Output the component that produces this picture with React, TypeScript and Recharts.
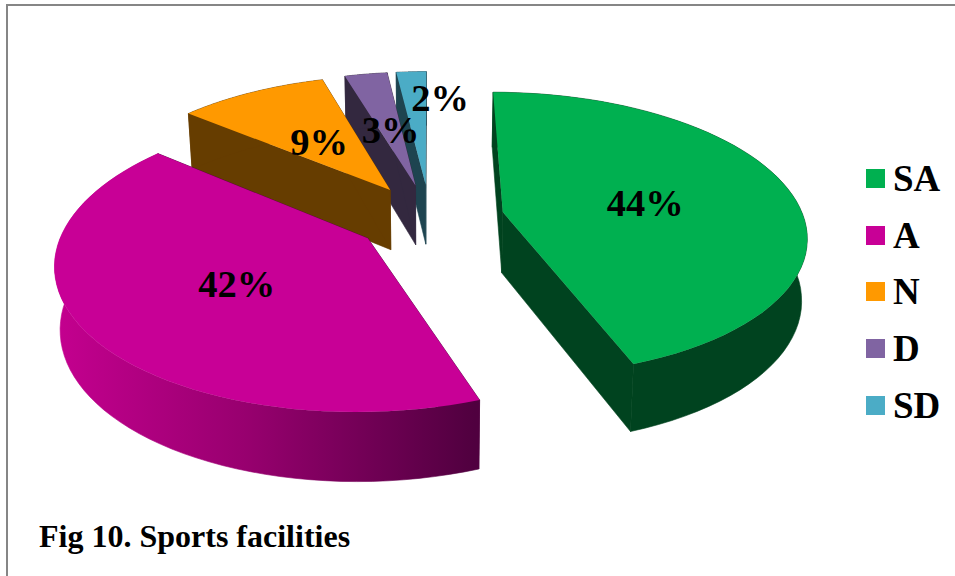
import { PieChart, Pie, Cell, Legend } from 'recharts'

// drawn back to front, so the list runs against the legend order
const categories = ['SD', 'D', 'N', 'A', 'SA']
const shares = [1.9, 2.7, 9.4, 41.51, 44.49]
const topColors = ['#4bacc6', '#8064a2', '#ff9900', '#c80096', '#00b050']
const wallColors = ['#1e4450', '#33283f', '#663d00', 'url(#wallA)', '#00431f']
const cutColors = ['#1e4450', '#33283f', '#663d00', '#50003f', '#00431f']

const data = categories.map((name, i) => ({ name, value: shares[i] }))

const RX = 301
const RY = 140
const PERSPECTIVE = 0.154
const EXPLODE = 0.247
const DEPTH = 61

const rad = (deg: number) => (deg * Math.PI) / 180

function project(cx: number, cy: number, x: number, z: number, lower = false) {
  const w = 1 + PERSPECTIVE * z
  const px = (RX * x) / w
  const py = (-RY * z) / w
  if (lower) return [cx + px * 0.985, cy + py + DEPTH / (1 + 0.7 * PERSPECTIVE * z)]
  return [cx + px, cy + py]
}

const toPath = (pts: number[][]) =>
  'M' + pts.map((p) => `${p[0].toFixed(1)},${p[1].toFixed(1)}`).join('L') + 'Z'

function Slice3D(props: any) {
  const { cx, cy, startAngle, endAngle, name } = props
  const i = categories.indexOf(name)
  const from = 90 - endAngle
  const to = 90 - startAngle
  const mid = rad((from + to) / 2)
  const ox = EXPLODE * Math.sin(mid)
  const oz = EXPLODE * Math.cos(mid)

  const top: number[][] = []
  const low: number[][] = []
  for (let a = from; a <= to + 0.001; a += (to - from) / 60) {
    top.push(project(cx, cy, ox + Math.sin(rad(a)), oz + Math.cos(rad(a))))
    low.push(project(cx, cy, ox + Math.sin(rad(a)), oz + Math.cos(rad(a)), true))
  }
  const apex = project(cx, cy, ox, oz)
  const apexLow = project(cx, cy, ox, oz, true)
  const first = top.length - 1

  return (
    <g>
      <defs>
        <linearGradient id="wallA" gradientUnits="userSpaceOnUse" x1="55" y1="0" x2="475" y2="0">
          <stop offset="0%" stopColor="#c4008f" />
          <stop offset="45%" stopColor="#98006f" />
          <stop offset="100%" stopColor="#50003f" />
        </linearGradient>
      </defs>
      <path d={toPath([apex, top[0], low[0], apexLow])} fill={cutColors[i]} stroke={cutColors[i]} strokeWidth={0.6} />
      <path d={toPath([apex, top[first], low[first], apexLow])} fill={cutColors[i]} stroke={cutColors[i]} strokeWidth={0.6} />
      <path d={toPath([...top, ...low.slice().reverse()])} fill={wallColors[i]} stroke={wallColors[i]} strokeWidth={0.6} />
      <path d={toPath([apex, ...top])} fill={topColors[i]} />
    </g>
  )
}

function SliceLabel(props: any) {
  const { cx, cy, midAngle, percent, name } = props
  const t = 90 - midAngle
  const ox = (EXPLODE + 0.49) * Math.sin(rad(t))
  const oz = (EXPLODE + 0.49) * Math.cos(rad(t))
  const [x, y] = project(cx, cy, ox, oz)
  // the smallest label was dragged off its slice in the original
  const nudge = name === 'SD' ? [22, -28] : [1, 2]
  return (
    <text
      x={x + nudge[0]}
      y={y + nudge[1]}
      dy="0.35em"
      textAnchor="middle"
      fontFamily="Liberation Serif"
      fontWeight="bold"
      fontSize={38.5}
      fill="#000"
    >
      {Math.round(percent * 100)}%
    </text>
  )
}

function LegendList() {
  const rows = categories.map((name, i) => ({ name, color: topColors[i] })).reverse()
  return (
    <div>
      {rows.map((r) => (
        <div key={r.name} style={{ display: 'flex', alignItems: 'center', height: 56.75 }}>
          <span style={{ width: 19, height: 19, background: r.color, marginRight: 8 }} />
          <span style={{ fontFamily: 'Liberation Serif', fontWeight: 'bold', fontSize: 37, color: '#000' }}>
            {r.name}
          </span>
        </div>
      ))}
    </div>
  )
}

export default function App() {
  return (
    <div style={{ position: 'absolute', left: 0, top: 0, width: 955, height: 576, overflow: 'hidden', background: '#fff' }}>
      <div
        style={{
          position: 'absolute',
          left: 6,
          top: 4,
          width: 1000,
          height: 700,
          border: '2px solid #868686',
        }}
      />
      <div style={{ position: 'absolute', left: 0, top: 0 }}>
        <PieChart width={955} height={576}>
          <Pie
            data={data}
            dataKey="value"
            nameKey="name"
            cx={425}
            cy={213}
            outerRadius={RX}
            startAngle={90}
            endAngle={450}
            stroke="none"
            shape={Slice3D}
            label={SliceLabel}
            labelLine={false}
            isAnimationActive={false}
          >
            {data.map((_, i) => (
              <Cell key={`cell-${i}`} fill={topColors[i]} />
            ))}
          </Pie>
          <Legend
            content={LegendList}
            wrapperStyle={{ position: 'absolute', left: 866, top: 150, width: 89, bottom: 'auto' }}
          />
        </PieChart>
      </div>
      <div
        style={{
          position: 'absolute',
          left: 39,
          top: 518,
          fontFamily: 'Liberation Serif',
          fontWeight: 'bold',
          fontSize: 32,
          color: '#000',
          whiteSpace: 'nowrap',
        }}
      >
        Fig 10. Sports facilities
      </div>
    </div>
  )
}
